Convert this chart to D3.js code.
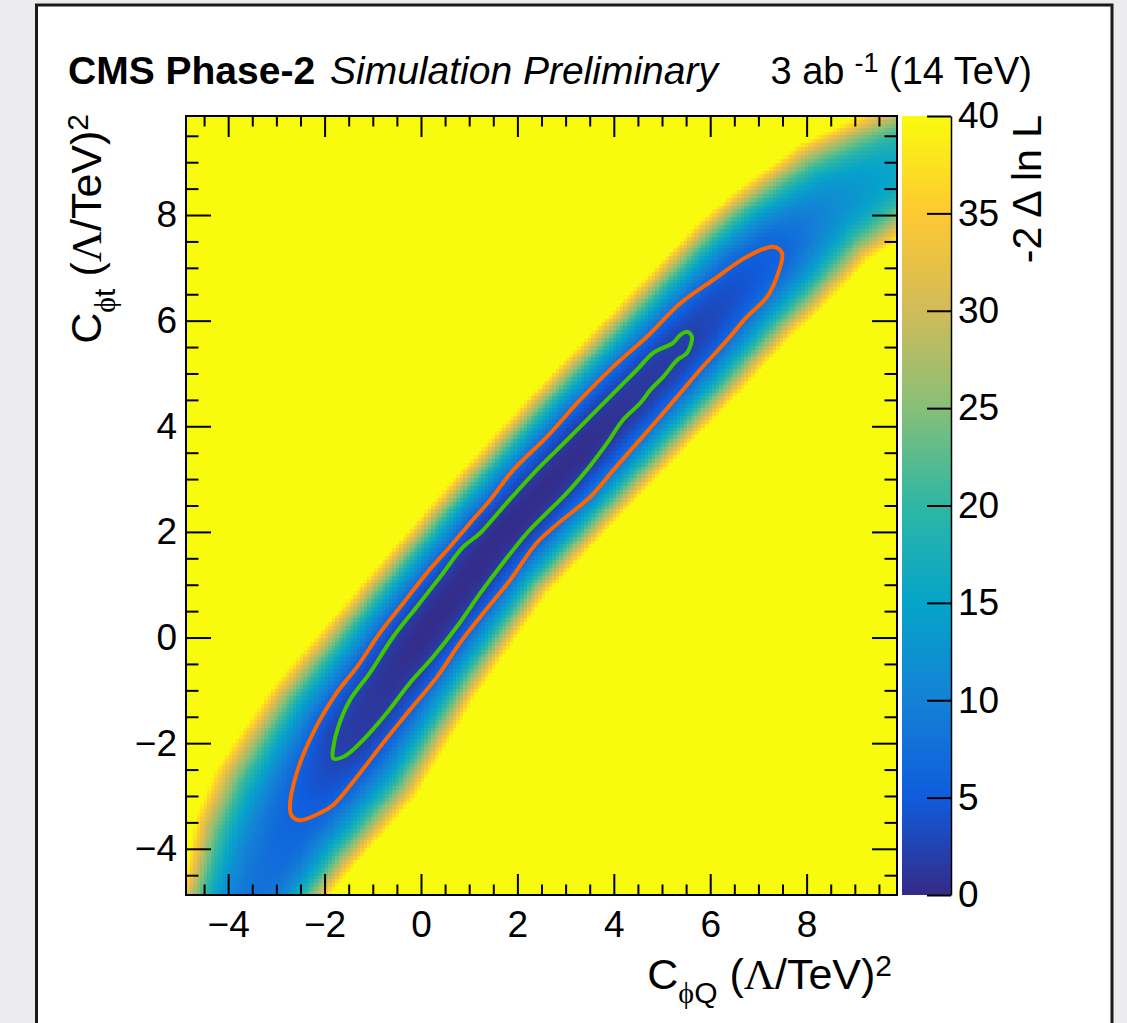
<!DOCTYPE html>
<html>
<head>
<meta charset="utf-8">
<script src="https://cdn.jsdelivr.net/npm/d3@7"></script>
<style>
  html, body { margin: 0; padding: 0; background: #ececee; }
  svg { display: block; }
  text { font-family: "Liberation Sans", Arial, Helvetica, sans-serif; fill: #000; }
</style>
</head>
<body>
<div id="chart"></div>
<script>
// CMS Phase-2 projection: -2 Delta ln L scan in the (C_phiQ, C_phit) plane,
// heat map with the 68% and 95% CL contours drawn on top.

// ---- axis ranges and ticks ----
const xDomain = [-4.875, 9.875];
const yDomain = [-4.875, 9.875];
const zDomain = [0, 40];
const xMajor  = [-4, -2, 0, 2, 4, 6, 8];
const yMajor  = [-4, -2, 0, 2, 4, 6, 8];
const zTicks  = [0, 5, 10, 15, 20, 25, 30, 35, 40];
const nBins   = 200;

// ---- likelihood valley ----
// centre line of the valley, the -2 Delta ln L floor along it and the
// distance (coefficient units) at which it has climbed by 40, upper-left
// and lower-right of the valley
const ridgeQ       = [-4.30, -3.70, -3.10, -2.55, -1.55, -0.10, 1.52, 3.45, 5.48, 6.71, 7.39, 8.49, 9.74, 11.19, 12.85];
const ridgeT       = [-6.28, -5.35, -4.42, -3.46, -2.00, -0.10, 1.79, 3.68, 5.58, 6.77, 7.32, 8.19, 8.85, 9.46, 10.08];
const ridgeFloor   = [10.5,  9.0,   7.5,   6.0,   1.8,   0.3,   0.2,  0.4,  2.0,  4.3,  6.0,  11.5, 15.5, 20.0,  24.0];
const widthUpper   = [1.45,  1.62,  2.05,  2.10,  1.90,  1.60,  1.46, 1.48, 1.50, 1.52, 1.54, 1.52, 1.50, 1.52,  1.56];
const widthLower   = [1.30,  1.32,  1.36,  1.58,  1.80,  1.60,  1.46, 1.48, 1.50, 1.52, 1.54, 1.52, 1.50, 1.52,  1.56];
const profilePower = 2.3;

// ---- 95% CL contour (orange) ----
const cl95Q = [-2.51, -2.09, -1.82, -1.33, -0.79, -0.23, 0.33, 0.81, 1.29, 1.85, 2.40, 2.91, 3.51, 3.99, 4.48,
               4.96, 5.38, 5.79, 6.35, 6.76, 7.18, 7.41, 7.49, 7.31, 6.76, 6.06, 5.38, 4.69, 3.99, 3.30,
               2.61, 1.91, 1.43, 1.02, 0.60, 0.12, -0.37, -0.85, -1.33, -1.75, -2.24, -2.58, -2.72, -2.68];
const cl95T = [-3.46, -3.32, -3.17, -2.64, -2.00, -1.37, -0.75, -0.10, 0.46, 1.09, 1.79, 2.21, 2.66, 3.17, 3.68,
               4.18, 4.63, 5.07, 5.63, 6.07, 6.45, 6.90, 7.28, 7.40, 7.21, 6.77, 6.33, 5.70, 5.13, 4.50,
               3.80, 3.17, 2.60, 2.17, 1.72, 1.22, 0.65, 0.09, -0.56, -1.05, -1.81, -2.57, -3.20, -3.38];

// ---- 68% CL contour (green) ----
const cl68Q = [-1.82, -1.57, -1.20, -0.71, -0.23, 0.25, 0.74, 1.23, 1.70, 2.20, 2.61, 3.03, 3.44, 3.86, 4.19,
               4.55, 4.76, 5.03, 5.31, 5.52, 5.62, 5.52, 5.38, 5.23, 4.82, 4.48, 4.13, 3.65, 3.03, 2.40,
               1.78, 1.23, 0.87, 0.40, -0.09, -0.58, -1.06, -1.47, -1.72, -1.82];
const cl68T = [-2.29, -2.24, -1.94, -1.43, -0.86, -0.37, 0.20, 0.84, 1.41, 1.98, 2.36, 2.74, 3.17, 3.68, 4.12,
               4.44, 4.69, 4.94, 5.25, 5.39, 5.70, 5.79, 5.73, 5.58, 5.39, 5.07, 4.75, 4.31, 3.74, 3.17,
               2.55, 1.98, 1.71, 1.15, 0.58, 0.01, -0.67, -1.18, -1.70, -2.09];

// ---- ROOT kBird palette ----
const birdStops = [0.0000, 0.1250, 0.2500, 0.3750, 0.5000, 0.6250, 0.7500, 0.8750, 1.0000];
const birdRed   = [0.2082, 0.0592, 0.0780, 0.0232, 0.1802, 0.5301, 0.8186, 0.9956, 0.9764];
const birdGreen = [0.1664, 0.3599, 0.5041, 0.6419, 0.7178, 0.7492, 0.7328, 0.7862, 0.9832];
const birdBlue  = [0.5293, 0.8684, 0.8385, 0.7914, 0.6425, 0.4662, 0.3499, 0.1968, 0.0539];

// ------------------------------------------------------------------
const W = 1127, H = 1023;
const plot = { left: 186, top: 116, right: 897, bottom: 895 };
const bar  = { left: 902, right: 951 };
const FONT_TITLE = 39, FONT_AXIS = 43, FONT_SUB = 30, FONT_TICK = 37;
const SANS  = "'Liberation Sans', Arial, Helvetica, sans-serif";
const SERIF = "'Liberation Serif', 'Times New Roman', serif";

const x = d3.scaleLinear().domain(xDomain).range([plot.left, plot.right]);
const y = d3.scaleLinear().domain(yDomain).range([plot.bottom, plot.top]);
const z = d3.scaleLinear().domain(zDomain).range([plot.bottom, plot.top]);

const birdColors = birdStops.map((s, i) =>
  d3.rgb(birdRed[i] * 255, birdGreen[i] * 255, birdBlue[i] * 255));
const color = d3.scaleLinear()
  .domain(birdStops.map(s => zDomain[0] + s * (zDomain[1] - zDomain[0])))
  .range(birdColors)
  .interpolate(d3.interpolateRgb)
  .clamp(true);

// -2 Delta ln L at (q, t) from the valley description above
function nll(q, t) {
  let best = Infinity, floor = zDomain[1], width = 1;
  for (let i = 0; i < ridgeQ.length - 1; i++) {
    const ax = ridgeQ[i], ay = ridgeT[i];
    const dx = ridgeQ[i + 1] - ax, dy = ridgeT[i + 1] - ay;
    let u = ((q - ax) * dx + (t - ay) * dy) / (dx * dx + dy * dy);
    u = Math.max(0, Math.min(1, u));
    const ex = q - (ax + u * dx), ey = t - (ay + u * dy);
    const d2 = ex * ex + ey * ey;
    if (d2 < best) {
      best  = d2;
      floor = ridgeFloor[i] + u * (ridgeFloor[i + 1] - ridgeFloor[i]);
      const ws = (dx * ey - dy * ex) > 0 ? widthUpper : widthLower;
      width = ws[i] + u * (ws[i + 1] - ws[i]);
    }
  }
  return Math.min(zDomain[1], floor + 40 * Math.pow(Math.sqrt(best) / width, profilePower));
}

const svg = d3.select("#chart").append("svg")
  .attr("width", W).attr("height", H)
  .attr("viewBox", `0 0 ${W} ${H}`);

// page + white panel
svg.append("rect").attr("width", W).attr("height", H).attr("fill", "#ececee");
svg.append("rect")
  .attr("x", 36.5).attr("y", 5)
  .attr("width", 1112 - 36.5).attr("height", H + 20)
  .attr("fill", "#fff").attr("stroke", "#1a1a1a").attr("stroke-width", 3);

// ---- heat map (binned, painted on a canvas then placed as an image) ----
const pw = plot.right - plot.left, ph = plot.bottom - plot.top;
const canvas = document.createElement("canvas");
canvas.width = pw; canvas.height = ph;
const ctx = canvas.getContext("2d");
const binW = (xDomain[1] - xDomain[0]) / nBins;
const binH = (yDomain[1] - yDomain[0]) / nBins;
for (let i = 0; i < nBins; i++) {
  const q0 = xDomain[0] + i * binW, q1 = q0 + binW;
  const px0 = Math.round(x(q0) - plot.left), px1 = Math.round(x(q1) - plot.left);
  for (let j = 0; j < nBins; j++) {
    const t0 = yDomain[0] + j * binH, t1 = t0 + binH;
    const py0 = Math.round(y(t1) - plot.top), py1 = Math.round(y(t0) - plot.top);
    ctx.fillStyle = color(nll(q0 + binW / 2, t0 + binH / 2));
    ctx.fillRect(px0, py0, px1 - px0, py1 - py0);
  }
}
svg.append("image")
  .attr("x", plot.left).attr("y", plot.top)
  .attr("width", pw).attr("height", ph)
  .style("image-rendering", "pixelated")
  .attr("href", canvas.toDataURL());

// ---- CL contours ----
function contourPath(qs, ts) {
  return d3.line()
    .x(i => x(qs[i]))
    .y(i => y(ts[i]))
    .curve(d3.curveCatmullRomClosed.alpha(0.5))(d3.range(qs.length));
}
svg.append("path")
  .attr("d", contourPath(cl95Q, cl95T))
  .attr("fill", "none").attr("stroke", "#ff6400").attr("stroke-width", 4)
  .attr("stroke-linejoin", "round");
svg.append("path")
  .attr("d", contourPath(cl68Q, cl68T))
  .attr("fill", "none").attr("stroke", "#3fc800").attr("stroke-width", 4)
  .attr("stroke-linejoin", "round");

// ---- axes ----
const xMinor = d3.range(-4.5, 9.9, 0.5).filter(v => !xMajor.includes(v));
const yMinor = d3.range(-4.5, 9.9, 0.5).filter(v => !yMajor.includes(v));

function styleAxis(g) {
  g.select(".domain").remove();
  g.selectAll(".tick line").attr("stroke", "#000").attr("stroke-width", 2);
  g.selectAll(".tick text")
    .attr("fill", "#000")
    .attr("font-size", FONT_TICK)
    .attr("font-family", SANS);
}

// bottom
styleAxis(svg.append("g").attr("transform", `translate(0,${plot.bottom})`)
  .call(d3.axisBottom(x).tickValues(xMajor).tickSizeInner(-21).tickSizeOuter(0).tickPadding(16)));
styleAxis(svg.append("g").attr("transform", `translate(0,${plot.bottom})`)
  .call(d3.axisBottom(x).tickValues(xMinor).tickSizeInner(-10.5).tickSizeOuter(0).tickFormat("")));
// top (mirrored, no labels)
styleAxis(svg.append("g").attr("transform", `translate(0,${plot.top})`)
  .call(d3.axisTop(x).tickValues(xMajor).tickSizeInner(-21).tickSizeOuter(0).tickFormat("")));
styleAxis(svg.append("g").attr("transform", `translate(0,${plot.top})`)
  .call(d3.axisTop(x).tickValues(xMinor).tickSizeInner(-10.5).tickSizeOuter(0).tickFormat("")));
// left
styleAxis(svg.append("g").attr("transform", `translate(${plot.left},0)`)
  .call(d3.axisLeft(y).tickValues(yMajor).tickSizeInner(-25).tickSizeOuter(0).tickPadding(9)));
styleAxis(svg.append("g").attr("transform", `translate(${plot.left},0)`)
  .call(d3.axisLeft(y).tickValues(yMinor).tickSizeInner(-12.5).tickSizeOuter(0).tickFormat("")));
// right (mirrored)
styleAxis(svg.append("g").attr("transform", `translate(${plot.right},0)`)
  .call(d3.axisRight(y).tickValues(yMajor).tickSizeInner(-25).tickSizeOuter(0).tickFormat("")));
styleAxis(svg.append("g").attr("transform", `translate(${plot.right},0)`)
  .call(d3.axisRight(y).tickValues(yMinor).tickSizeInner(-12.5).tickSizeOuter(0).tickFormat("")));

// frame
svg.append("rect")
  .attr("x", plot.left).attr("y", plot.top)
  .attr("width", pw).attr("height", ph)
  .attr("fill", "none").attr("stroke", "#000").attr("stroke-width", 2);

// ---- colour bar ----
const grad = svg.append("defs").append("linearGradient")
  .attr("id", "bird").attr("x1", 0).attr("y1", 1).attr("x2", 0).attr("y2", 0);
grad.selectAll("stop").data(birdStops).join("stop")
  .attr("offset", d => d)
  .attr("stop-color", (d, i) => birdColors[i].formatHex());
svg.append("rect")
  .attr("x", bar.left).attr("y", z(zDomain[1]))
  .attr("width", bar.right - bar.left).attr("height", z(zDomain[0]) - z(zDomain[1]))
  .attr("fill", "url(#bird)");
const zAxis = svg.append("g").attr("transform", `translate(${bar.right},0)`)
  .call(d3.axisRight(z).tickValues(zTicks).tickSizeInner(-24).tickSizeOuter(0).tickPadding(7));
zAxis.select(".domain").attr("stroke", "#000").attr("stroke-width", 1.5);
zAxis.selectAll(".tick line").attr("stroke", "#000").attr("stroke-width", 2);
zAxis.selectAll(".tick text").attr("fill", "#000").attr("font-size", FONT_TICK)
  .attr("font-family", SANS);

// ---- titles ----
svg.append("text").attr("x", 68).attr("y", 84)
  .attr("font-size", FONT_TITLE).attr("font-weight", "bold").text("CMS Phase-2");
svg.append("text").attr("x", 330).attr("y", 84)
  .attr("font-size", FONT_TITLE).attr("font-style", "italic").text("Simulation Preliminary");

const lumi = svg.append("text").attr("x", 1032).attr("y", 84)
  .attr("text-anchor", "end").attr("font-size", 38);
lumi.append("tspan").text("3 ab");
lumi.append("tspan").attr("dx", 10).attr("dy", -12).attr("font-size", 27).text("-1");
lumi.append("tspan").attr("dy", 12).text(" (14 TeV)");

function axisTitle(sel, sub) {
  sel.append("tspan").text("C");
  sel.append("tspan").attr("dy", 14).attr("font-size", FONT_SUB).attr("font-family", SERIF).text("\u03D5");
  sel.append("tspan").attr("font-size", FONT_SUB).text(sub);
  sel.append("tspan").attr("dy", -14).text(" (");
  sel.append("tspan").attr("font-family", SERIF).text("\u039B");
  sel.append("tspan").text("/TeV)");
  sel.append("tspan").attr("dy", -13).attr("font-size", FONT_SUB).text("2");
}

axisTitle(svg.append("text").attr("x", 892).attr("y", 989)
  .attr("text-anchor", "end").attr("font-size", FONT_AXIS), "Q");

axisTitle(svg.append("g").attr("transform", "translate(101,114) rotate(-90)")
  .append("text").attr("text-anchor", "end").attr("font-size", FONT_AXIS), "t");

svg.append("g").attr("transform", "translate(1041,115) rotate(-90)")
  .append("text").attr("text-anchor", "end").attr("font-size", 41)
  .text("-2 \u0394 ln L");
</script>
</body>
</html>
